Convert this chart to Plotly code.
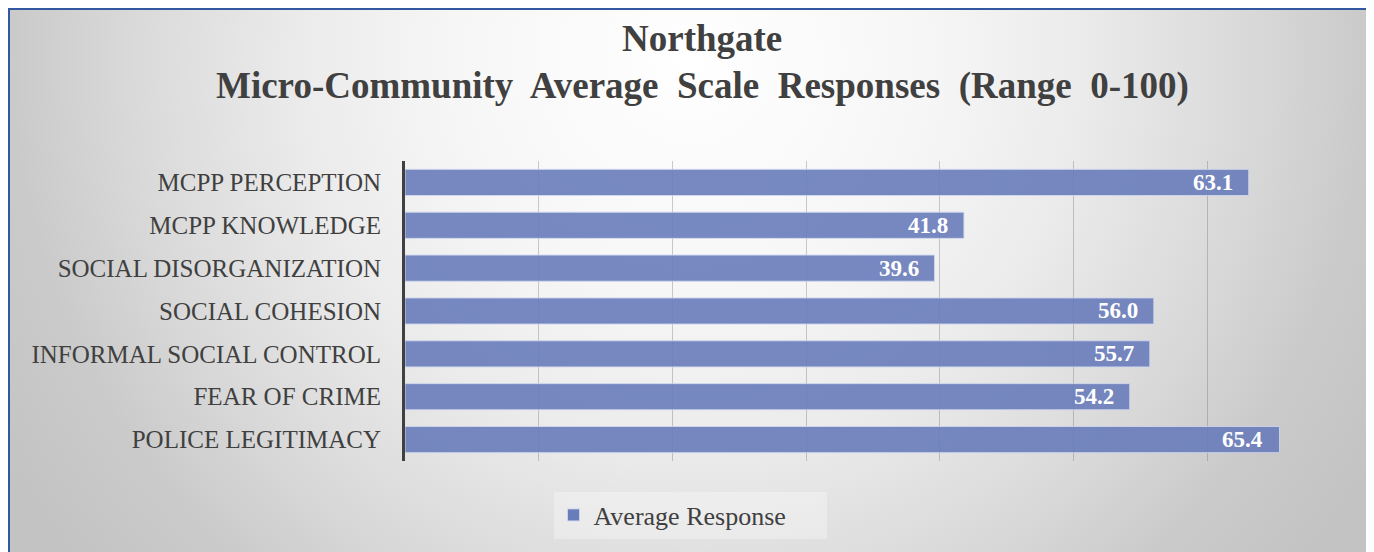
import base64
import plotly.graph_objects as go

# ---- data ----
categories = [
    "MCPP PERCEPTION",
    "MCPP KNOWLEDGE",
    "SOCIAL DISORGANIZATION",
    "SOCIAL COHESION",
    "INFORMAL SOCIAL CONTROL",
    "FEAR OF CRIME",
    "POLICE LEGITIMACY",
]
values = [63.1, 41.8, 39.6, 56.0, 55.7, 54.2, 65.4]
series_name = "Average Response"
title_line1 = "Northgate"
title_line2 = "Micro-Community  Average  Scale  Responses  (Range  0-100)"

# figure sits 8px into the page (default body margin)
OFF = 8
W, H = 1364, 560
FONT = "Palatino Linotype, Book Antiqua, Palatino, Liberation Serif, serif"
TXT = "#404040"


def px(x):
    """page x (px) -> paper fraction"""
    return (x - OFF) / W


def py(y):
    """page y (px) -> paper fraction"""
    return 1 - (y - OFF) / H


svg = f"""<svg xmlns='http://www.w3.org/2000/svg' width='{W}' height='{H}' viewBox='0 0 {W} {H}' preserveAspectRatio='none'>
<defs><radialGradient id='g' cx='682' cy='52' r='800' gradientUnits='userSpaceOnUse'>
<stop offset='0' stop-color='#ffffff'/>
<stop offset='0.3' stop-color='#f6f6f6'/>
<stop offset='0.49' stop-color='#ebebeb'/>
<stop offset='0.7' stop-color='#d9d9d9'/>
<stop offset='0.85' stop-color='#cacaca'/>
<stop offset='1' stop-color='#c3c3c3'/>
</radialGradient></defs><rect width='{W}' height='{H}' fill='url(#g)'/></svg>"""
bg_src = "data:image/svg+xml;base64," + base64.b64encode(svg.encode()).decode()

fig = go.Figure()
fig.add_trace(go.Bar(
    x=values,
    y=categories,
    orientation="h",
    name=series_name,
    marker=dict(color="#6a7dbb", opacity=0.9,
                line=dict(color="rgba(205,214,238,0.9)", width=1)),
    width=0.61,
    showlegend=True,
))

for c, v in zip(categories, values):
    fig.add_annotation(
        x=v, y=c, xref="x", yref="y", text=f"<b>{v:.1f}</b>",
        showarrow=False, xanchor="right", xshift=-14, yshift=0,
        font=dict(family=FONT, size=23, color="white"),
    )

fig.add_annotation(x=px(702), y=py(38), xref="paper", yref="paper",
                   text=f"<b>{title_line1}</b>", showarrow=False,
                   xanchor="center", yanchor="middle",
                   font=dict(family=FONT, size=37, color=TXT))
fig.add_annotation(x=px(702), y=py(86), xref="paper", yref="paper",
                   text=f"<b>{title_line2}</b>", showarrow=False,
                   xanchor="center", yanchor="middle",
                   font=dict(family=FONT, size=37, color=TXT))

fig.add_layout_image(dict(
    source=bg_src, xref="paper", yref="paper",
    x=0, y=1, sizex=1, sizey=1,
    sizing="stretch", xanchor="left", yanchor="top", layer="below",
))

fig.add_shape(type="rect", xref="paper", yref="paper",
              x0=px(9), x1=px(1370), y0=-0.05, y1=py(9),
              line=dict(color="#3158a0", width=2), fillcolor="rgba(0,0,0,0)",
              layer="above")

fig.update_layout(
    width=W, height=H,
    margin=dict(l=0, r=0, t=0, b=0),
    paper_bgcolor="white",
    plot_bgcolor="rgba(0,0,0,0)",
    font=dict(family=FONT, color=TXT),
    xaxis=dict(
        domain=[px(405), px(1341)], range=[0, 70], dtick=10,
        showgrid=True, gridcolor="rgba(110,110,110,0.35)", gridwidth=1,
        showticklabels=False, zeroline=False, showline=False,
        ticks="", fixedrange=True,
    ),
    yaxis=dict(
        domain=[py(461), py(161)], autorange="reversed",
        showline=True, linecolor="#404040", linewidth=3,
        showgrid=False, ticks="", ticklabelstandoff=16,
        tickfont=dict(family=FONT, size=25, color=TXT),
    ),
    legend=dict(
        orientation="h", x=px(690), y=py(515), xanchor="center", yanchor="middle",
        bgcolor="rgba(255,255,255,0.3)", borderwidth=0,
        entrywidth=228, entrywidthmode="pixels",
        font=dict(family=FONT, size=26, color=TXT),
    ),
    bargap=0.39,
)

fig.write_html("out.html")
